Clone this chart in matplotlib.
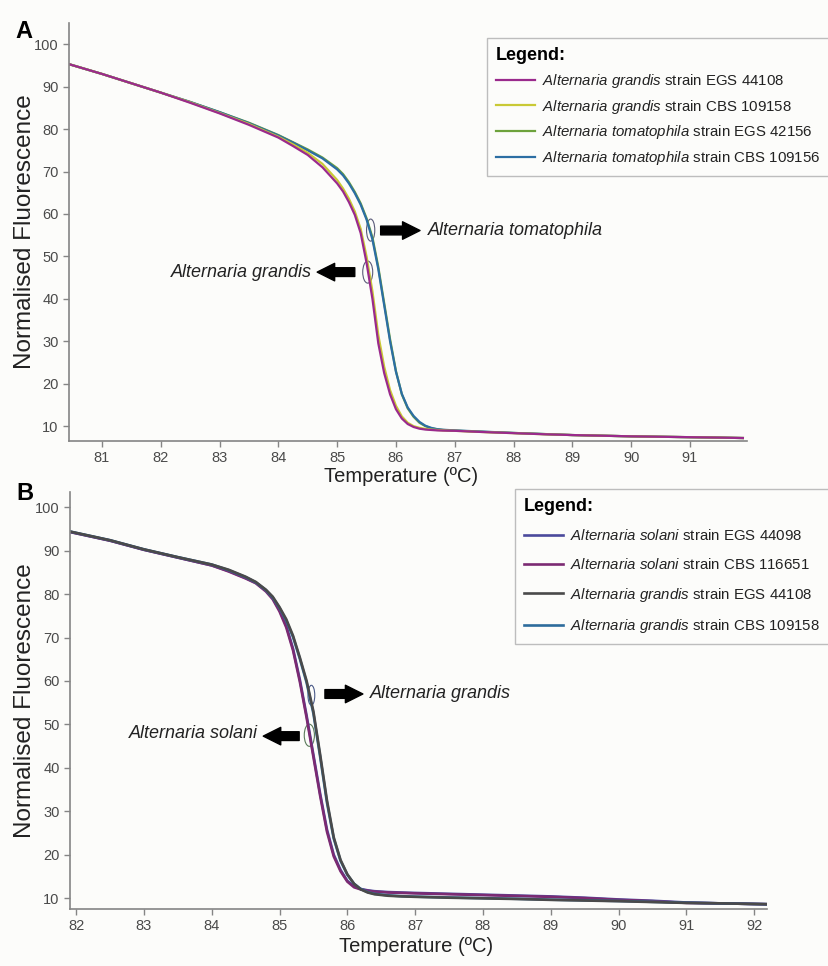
import matplotlib
matplotlib.use("Agg")
import numpy as np
from matplotlib import pyplot as plt
from matplotlib.patches import Ellipse

plt.rcParams['font.family'] = ['Liberation Sans', 'DejaVu Sans']
plt.rcParams['mathtext.fontset'] = 'custom'
plt.rcParams['mathtext.it'] = 'Liberation Sans:italic'
plt.rcParams['mathtext.rm'] = 'Liberation Sans'

# ---- panel A data (temperature in C, normalised fluorescence) ----
temp_a = [80.44, 81, 81.5, 82, 82.5, 83, 83.5, 84, 84.25, 84.5, 84.75, 85, 85.1, 85.2,
          85.3, 85.4, 85.5, 85.6, 85.7, 85.8, 85.9, 86, 86.1, 86.2, 86.3, 86.4, 86.5,
          86.6, 86.7, 86.8, 87, 87.5, 88, 88.5, 89, 89.5, 90, 90.5, 91, 91.5, 91.9]
grandis_egs44108_a = [95.3, 93.0, 90.8, 88.6, 86.2, 83.7, 81.0, 78.0, 76.0, 73.9, 71.0, 67.2,
                      65.3, 62.8, 59.8, 55.5, 48.5, 40.0, 29.5, 22.5, 17.5, 14.0, 11.8, 10.5,
                      9.8, 9.4, 9.2, 9.1, 9.0, 8.95, 8.9, 8.6, 8.35, 8.1, 7.9, 7.75, 7.6,
                      7.5, 7.4, 7.3, 7.2]
grandis_cbs109158_a = [95.3, 93.0, 90.8, 88.6, 86.3, 83.8, 81.2, 78.2, 76.4, 74.4, 71.8, 68.0,
                       66.0, 63.6, 60.6, 56.5, 50.0, 41.8, 31.5, 24.0, 18.5, 14.8, 12.3, 10.8,
                       10.0, 9.6, 9.35, 9.2, 9.1, 9.0, 8.9, 8.6, 8.35, 8.1, 7.9, 7.75, 7.6,
                       7.5, 7.4, 7.3, 7.2]
tomato_egs42156_a = [95.3, 93.0, 90.8, 88.6, 86.4, 84.0, 81.5, 78.6, 76.9, 75.2, 73.3, 70.8,
                     69.4, 67.5, 65.2, 62.5, 59.0, 54.5, 47.5, 39.0, 30.5, 23.0, 17.5, 14.2,
                     12.2, 10.8, 10.0, 9.5, 9.25, 9.1, 8.95, 8.65, 8.4, 8.15, 7.9, 7.75, 7.6,
                     7.5, 7.4, 7.3, 7.2]
tomato_cbs109156_a = [95.3, 93.0, 90.8, 88.6, 86.4, 84.0, 81.4, 78.5, 76.8, 75.0, 73.1, 70.5,
                      69.1, 67.2, 64.9, 62.2, 58.7, 54.0, 47.0, 38.5, 30.0, 22.8, 17.6, 14.4,
                      12.4, 11.0, 10.1, 9.6, 9.3, 9.15, 9.0, 8.7, 8.4, 8.15, 7.9, 7.75, 7.6,
                      7.5, 7.4, 7.3, 7.2]
labels_a = [r'$\mathit{Alternaria\ grandis}$ strain EGS 44108',
            r'$\mathit{Alternaria\ grandis}$ strain CBS 109158',
            r'$\mathit{Alternaria\ tomatophila}$ strain EGS 42156',
            r'$\mathit{Alternaria\ tomatophila}$ strain CBS 109156']
colors_a = ['#9a2a8c', '#c9c935', '#6da23c', '#2c6ea3']

# ---- panel B data ----
temp_b = [81.91, 82.5, 83, 83.5, 84, 84.25, 84.5, 84.65, 84.8, 84.9, 85, 85.1, 85.2, 85.3,
          85.4, 85.5, 85.6, 85.7, 85.8, 85.9, 86, 86.1, 86.2, 86.3, 86.4, 86.6, 86.8, 87,
          87.5, 88, 88.5, 89, 89.5, 90, 90.5, 91, 91.5, 92.2]
solani_egs44098_b = [94.3, 92.3, 90.2, 88.4, 86.6, 85.3, 83.7, 82.6, 80.8, 79.1, 76.3, 72.7,
                     67.4, 60.3, 52.0, 43.0, 34.0, 25.8, 20.0, 16.5, 14.0, 12.7, 12.1, 11.8,
                     11.6, 11.4, 11.3, 11.2, 11.0, 10.8, 10.6, 10.4, 10.1, 9.7, 9.4, 9.0,
                     8.8, 8.6]
solani_cbs116651_b = [94.3, 92.3, 90.2, 88.4, 86.6, 85.2, 83.6, 82.5, 80.6, 78.8, 76.0, 72.3,
                      67.0, 59.8, 51.5, 42.5, 33.5, 25.3, 19.6, 16.2, 13.8, 12.5, 12.0, 11.7,
                      11.5, 11.3, 11.2, 11.1, 10.9, 10.7, 10.5, 10.3, 10.0, 9.6, 9.3, 8.9,
                      8.8, 8.6]
grandis_egs44108_b = [94.4, 92.4, 90.3, 88.5, 86.8, 85.6, 84.0, 82.8, 81.0, 79.4, 77.0, 74.2,
                      70.4, 65.4, 60.0, 53.0, 43.0, 32.5, 24.0, 18.8, 15.5, 13.3, 12.0, 11.3,
                      10.9, 10.55, 10.4, 10.3, 10.1, 9.95, 9.8, 9.6, 9.45, 9.3, 9.1, 8.9,
                      8.8, 8.6]
grandis_cbs109158_b = [94.4, 92.4, 90.3, 88.5, 86.8, 85.5, 83.9, 82.7, 80.9, 79.2, 76.8, 73.9,
                       70.1, 65.1, 59.6, 52.5, 42.5, 32.0, 23.7, 18.6, 15.4, 13.3, 12.1, 11.4,
                       11.0, 10.65, 10.45, 10.35, 10.15, 10.0, 9.85, 9.65, 9.5, 9.35, 9.15,
                       8.95, 8.8, 8.6]
labels_b = [r'$\mathit{Alternaria\ solani}$ strain EGS 44098',
            r'$\mathit{Alternaria\ solani}$ strain CBS 116651',
            r'$\mathit{Alternaria\ grandis}$ strain EGS 44108',
            r'$\mathit{Alternaria\ grandis}$ strain CBS 109158']
colors_b = ['#4b4a9c', '#7b2a72', '#4a4a4a', '#2d6c9c']

yticks = [10, 20, 30, 40, 50, 60, 70, 80, 90, 100]
xticks_a = [81, 82, 83, 84, 85, 86, 87, 88, 89, 90, 91]
xticks_b = [82, 83, 84, 85, 86, 87, 88, 89, 90, 91, 92]

bg = '#fcfcfa'
W, H = 829, 966
fig = plt.figure(figsize=(W / 100, H / 100), dpi=100, facecolor=bg)


def px_axes(l, t, r, b):
    return fig.add_axes([l / W, 1 - b / H, (r - l) / W, (b - t) / H], facecolor=bg)


def style(ax, xlim, ylim, xticks, xl_x, xl_y):
    ax.set_xlim(*xlim)
    ax.set_ylim(*ylim)
    ax.set_xticks(xticks)
    ax.set_yticks(yticks)
    for s in ['top', 'right']:
        ax.spines[s].set_visible(False)
    for s in ['left', 'bottom']:
        ax.spines[s].set_color('#858585')
        ax.spines[s].set_linewidth(1.2)
    ax.tick_params(colors='#858585', labelcolor='#4a4a4a', length=4, width=1, labelsize=10.5)
    ax.set_ylabel('Normalised Fluorescence', fontsize=17.5, color='#222222')
    ax.yaxis.set_label_coords(-0.049, 0.5)
    ax.set_xlabel('Temperature (ºC)', fontsize=14.5, color='#222222')
    ax.xaxis.set_label_coords(xl_x, xl_y)


def arrow(ax, x0, x1, y):
    ax.annotate('', xy=(x1, y), xytext=(x0, y),
                arrowprops=dict(arrowstyle='simple,head_length=0.9,head_width=0.9,tail_width=0.45',
                                color='black', mutation_scale=14, shrinkA=0, shrinkB=0))


def legend(ax, handles_labels, anchor, spacing):
    lg = ax.legend(*handles_labels, loc='upper left', bbox_to_anchor=anchor,
                   bbox_transform=fig.transFigure, borderaxespad=0, frameon=True,
                   fancybox=False, edgecolor='#bdbdbd', facecolor=bg, framealpha=1,
                   fontsize=10.8, title='Legend:', alignment='left',
                   title_fontproperties={'weight': 'bold', 'size': 13},
                   handlelength=2.6, handletextpad=0.5, labelspacing=spacing,
                   borderpad=0.6)
    lg.get_frame().set_linewidth(1)
    for t in lg.get_texts():
        t.set_color('#222222')
    return lg


# ---------------- Panel A ----------------
ax1 = px_axes(69, 23, 747, 441)
series_a = [grandis_egs44108_a, grandis_cbs109158_a, tomato_egs42156_a, tomato_cbs109156_a]
order_a = [2, 3, 1, 0]
lines_a = [None] * 4
for i in order_a:
    lines_a[i], = ax1.plot(temp_a, series_a[i], color=colors_a[i], lw=1.6)
style(ax1, (80.44, 91.97), (6.5, 105), xticks_a, 0.49, -0.062)
legend(ax1, (lines_a, labels_a), (487 / W, 1 - 38 / H), 0.52)

ax1.add_patch(Ellipse((85.57, 56.2), 0.14, 5.2, fill=False, ec='#5a5a78', lw=0.8))
ax1.add_patch(Ellipse((85.52, 46.3), 0.17, 5.2, fill=False, ec='#5a5a78', lw=0.8))
arrow(ax1, 85.74, 86.41, 56.1)
arrow(ax1, 85.30, 84.66, 46.3)
ax1.text(86.54, 56.1, 'Alternaria tomatophila', fontsize=13, style='italic',
         va='center', ha='left', color='#222222')
ax1.text(84.57, 46.3, 'Alternaria grandis', fontsize=13, style='italic',
         va='center', ha='right', color='#222222')

# ---------------- Panel B ----------------
ax2 = px_axes(70, 492, 767, 909)
series_b = [solani_egs44098_b, solani_cbs116651_b, grandis_egs44108_b, grandis_cbs109158_b]
order_b = [0, 1, 3, 2]
lines_b = [None] * 4
for i in order_b:
    lines_b[i], = ax2.plot(temp_b, series_b[i], color=colors_b[i], lw=1.9)
style(ax2, (81.91, 92.19), (7.5, 103.5), xticks_b, 0.496, -0.067)
legend(ax2, (lines_b, labels_b), (515 / W, 1 - 489 / H), 0.9)

ax2.add_patch(Ellipse((85.47, 56.7), 0.10, 4.6, fill=False, ec='#4a5a88', lw=0.8))
ax2.add_patch(Ellipse((85.44, 47.5), 0.15, 5.1, fill=False, ec='#5a7a5a', lw=0.8))
arrow(ax2, 85.67, 86.23, 57.0)
arrow(ax2, 85.29, 84.76, 47.3)
ax2.text(86.34, 57.0, 'Alternaria grandis', fontsize=13, style='italic',
         va='center', ha='left', color='#222222')
ax2.text(84.68, 47.8, 'Alternaria solani', fontsize=13, style='italic',
         va='center', ha='right', color='#222222')

fig.text(15 / W, 1 - 31 / H, 'A', fontsize=17, fontweight='bold', va='center', ha='left')
fig.text(16 / W, 1 - 494 / H, 'B', fontsize=17, fontweight='bold', va='center', ha='left')

fig.savefig('out.png', dpi=100, facecolor=bg)
